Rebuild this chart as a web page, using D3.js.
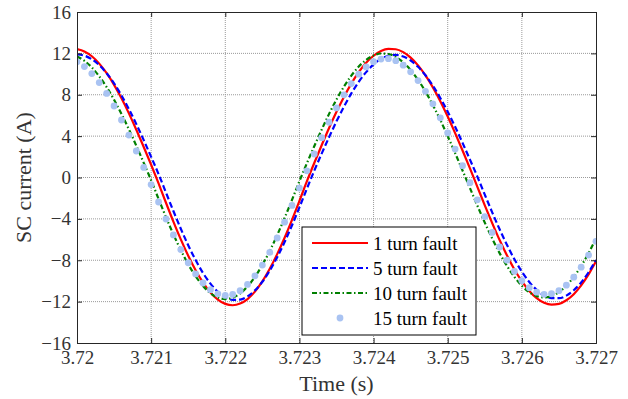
<!DOCTYPE html>
<html>
<head>
<meta charset="utf-8">
<script src="https://cdn.jsdelivr.net/npm/d3@7"></script>
<style>
  body { margin: 0; background: #fff; }
  svg { display: block; font-family: "Liberation Serif", "Times New Roman", serif; }
</style>
</head>
<body>
<svg id="chart" width="628" height="399"></svg>
<script>
// sampling grid: 3.72 s to 3.727 s every 0.1 ms
const time = d3.range(71).map(i => +(3.72 + i * 0.0001).toFixed(4));

// SC current (A)
const fault1 = [12.42, 12.19, 11.72, 11.01, 10.08, 8.96, 7.66, 6.20, 4.62, 2.95, 1.23, -0.57, -2.44, -4.26, -5.98, -7.56, -8.96, -10.15, -11.11, -11.80, -12.22, -12.35, -12.19, -11.75, -11.03, -10.05, -8.83, -7.41, -5.82, -4.09, -2.26, -0.38, 1.40, 3.12, 4.78, 6.35, 7.79, 9.08, 10.18, 11.09, 11.77, 12.23, 12.43, 12.40, 12.12, 11.59, 10.84, 9.87, 8.71, 7.38, 5.89, 4.29, 2.61, 0.88, -0.90, -2.69, -4.41, -6.05, -7.55, -8.89, -10.03, -10.97, -11.66, -12.11, -12.29, -12.22, -11.87, -11.28, -10.43, -9.37, -8.10];
const fault5 = [11.90, 11.78, 11.43, 10.86, 10.08, 9.09, 7.93, 6.61, 5.16, 3.61, 1.99, 0.33, -1.46, -3.24, -4.95, -6.55, -7.98, -9.24, -10.26, -11.05, -11.58, -11.83, -11.80, -11.49, -10.91, -10.08, -9.00, -7.71, -6.24, -4.62, -2.89, -1.09, 0.66, 2.31, 3.90, 5.43, 6.84, 8.13, 9.25, 10.19, 10.94, 11.47, 11.77, 11.85, 11.69, 11.31, 10.70, 9.88, 8.88, 7.69, 6.36, 4.90, 3.35, 1.73, 0.08, -1.66, -3.37, -5.01, -6.53, -7.91, -9.11, -10.10, -10.87, -11.40, -11.66, -11.67, -11.42, -10.90, -10.15, -9.16, -7.97];
const fault10 = [11.70, 11.28, 10.64, 9.78, 8.73, 7.51, 6.14, 4.65, 3.07, 1.42, -0.27, -2.07, -3.83, -5.49, -7.02, -8.39, -9.55, -10.49, -11.18, -11.60, -11.75, -11.62, -11.21, -10.53, -9.61, -8.45, -7.10, -5.57, -3.91, -2.16, -0.36, 1.36, 3.02, 4.63, 6.15, 7.54, 8.78, 9.85, 10.72, 11.37, 11.80, 11.99, 11.94, 11.65, 11.13, 10.39, 9.44, 8.31, 7.00, 5.56, 4.00, 2.36, 0.68, -1.03, -2.72, -4.36, -5.90, -7.31, -8.56, -9.62, -10.47, -11.09, -11.47, -11.60, -11.47, -11.09, -10.47, -9.62, -8.56, -7.31, -5.90];
const fault15 = [11.18, 10.72, 10.05, 9.18, 8.13, 6.91, 5.56, 4.10, 2.56, 0.97, -0.68, -2.37, -4.01, -5.55, -6.97, -8.24, -9.32, -10.20, -10.84, -11.25, -11.40, -11.30, -10.94, -10.34, -9.51, -8.47, -7.24, -5.85, -4.32, -2.70, -1.02, 0.65, 2.27, 3.85, 5.34, 6.73, 7.99, 9.08, 9.99, 10.69, 11.19, 11.45, 11.49, 11.29, 10.86, 10.22, 9.37, 8.33, 7.12, 5.77, 4.31, 2.75, 1.14, -0.50, -2.16, -3.78, -5.31, -6.72, -7.99, -9.08, -9.98, -10.65, -11.09, -11.29, -11.24, -10.94, -10.41, -9.64, -8.67, -7.50, -6.17];

const xTicks = [3.72, 3.721, 3.722, 3.723, 3.724, 3.725, 3.726, 3.727];
const yTicks = [-16, -12, -8, -4, 0, 4, 8, 12, 16];
const legendLabels = ["1 turn fault", "5 turn fault", "10 turn fault", "15 turn fault"];

// plot box
const margin = { top: 12, right: 32, bottom: 56, left: 77 };
const width = 628 - margin.left - margin.right;
const height = 399 - margin.top - margin.bottom;

const svg = d3.select("#chart");
const g = svg.append("g").attr("transform", `translate(${margin.left},${margin.top})`);

const x = d3.scaleLinear().domain([3.72, 3.727]).range([0, width]);
const y = d3.scaleLinear().domain([-16, 16]).range([height, 0]);

// grid
g.append("g").selectAll("line")
  .data(xTicks.slice(1, -1))
  .enter().append("line")
  .attr("x1", d => x(d)).attr("x2", d => x(d))
  .attr("y1", 0).attr("y2", height)
  .attr("stroke", "#9a9a9a").attr("stroke-dasharray", "1,1");

g.append("g").selectAll("line")
  .data(yTicks.slice(1, -1))
  .enter().append("line")
  .attr("y1", d => y(d)).attr("y2", d => y(d))
  .attr("x1", 0).attr("x2", width)
  .attr("stroke", "#9a9a9a").attr("stroke-dasharray", "1,1");

g.append("clipPath").attr("id", "clip")
  .append("rect").attr("width", width).attr("height", height);

const plot = g.append("g").attr("clip-path", "url(#clip)");

const line = d3.line()
  .x((d, i) => x(time[i]))
  .y(d => y(d))
  .curve(d3.curveMonotoneX);

// curves
plot.append("path").datum(fault1)
  .attr("d", line).attr("fill", "none")
  .attr("stroke", "#ff0000").attr("stroke-width", 2.2);

plot.append("path").datum(fault5)
  .attr("d", line).attr("fill", "none")
  .attr("stroke", "#0000ff").attr("stroke-width", 2.2)
  .attr("stroke-dasharray", "6,3");

plot.append("path").datum(fault10)
  .attr("d", line).attr("fill", "none")
  .attr("stroke", "#008000").attr("stroke-width", 2.2)
  .attr("stroke-dasharray", "5,2.5,1.5,2.5");

plot.append("g").selectAll("circle")
  .data(fault15)
  .enter().append("circle")
  .attr("cx", (d, i) => x(time[i]))
  .attr("cy", d => y(d))
  .attr("r", 3.4)
  .attr("fill", "#a9c3f2");

// axes, MATLAB style box with inward ticks
const axisColor = "#262626";
const fmtX = d => d3.format(".4~f")(d);

const xAxis = g.append("g")
  .attr("transform", `translate(0,${height})`)
  .call(d3.axisBottom(x).tickValues(xTicks).tickFormat(fmtX).tickSize(-5).tickPadding(8));

const yAxis = g.append("g")
  .call(d3.axisLeft(y).tickValues(yTicks).tickSize(-5).tickPadding(6));

g.append("g")
  .call(d3.axisTop(x).tickValues(xTicks).tickFormat("").tickSize(-5));

g.append("g")
  .attr("transform", `translate(${width},0)`)
  .call(d3.axisRight(y).tickValues(yTicks).tickFormat("").tickSize(-5));

g.selectAll(".domain").attr("stroke", axisColor);
g.selectAll(".tick line").attr("stroke", axisColor);
g.selectAll(".tick text")
  .attr("fill", "#333")
  .style("font-size", "19px")
  .style("font-family", "Liberation Serif, serif");

// axis titles
svg.append("text")
  .attr("x", margin.left + width / 2)
  .attr("y", 391)
  .attr("text-anchor", "middle")
  .attr("fill", "#333")
  .style("font-size", "22px")
  .text("Time (s)");

svg.append("text")
  .attr("transform", `translate(31,${margin.top + height / 2}) rotate(-90)`)
  .attr("text-anchor", "middle")
  .attr("fill", "#333")
  .style("font-size", "22px")
  .text("SC current (A)");

// legend
const legend = svg.append("g").attr("transform", "translate(302,227)");
legend.append("rect")
  .attr("width", 174).attr("height", 108)
  .attr("fill", "#fff").attr("stroke", "#000").attr("stroke-width", 1);

const legendStyles = [
  { color: "#ff0000", dash: null },
  { color: "#0000ff", dash: "6,3" },
  { color: "#008000", dash: "5,2.5,1.5,2.5" },
  { color: "#a9c3f2", dash: null, dot: true }
];

const items = legend.selectAll(".legend-item")
  .data(legendLabels)
  .enter().append("g")
  .attr("class", "legend-item")
  .attr("transform", (d, i) => `translate(0,${16 + i * 25})`);

items.each(function (d, i) {
  const s = legendStyles[i];
  const item = d3.select(this);
  if (s.dot) {
    item.append("circle").attr("cx", 38).attr("cy", 0).attr("r", 3.4).attr("fill", s.color);
  } else {
    item.append("line")
      .attr("x1", 10).attr("x2", 66).attr("y1", 0).attr("y2", 0)
      .attr("stroke", s.color).attr("stroke-width", 2.2)
      .attr("stroke-dasharray", s.dash);
  }
});

items.append("text")
  .attr("x", 71).attr("y", 0).attr("dy", "0.35em")
  .attr("fill", "#000")
  .style("font-size", "19px")
  .text(d => d);
</script>
</body>
</html>
